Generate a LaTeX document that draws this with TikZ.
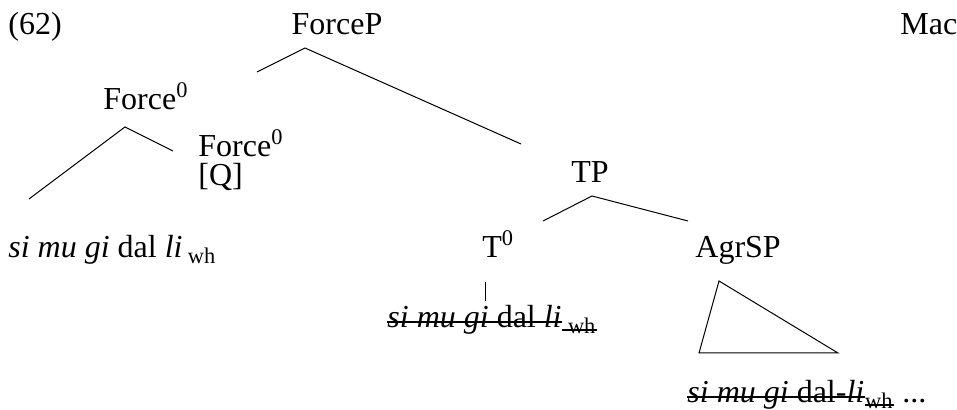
\documentclass[tikz,border=0pt]{standalone}
\usepackage{fontspec}
\setmainfont{Liberation Serif}
\usepackage{tikz}
\usetikzlibrary{positioning,calc}

\begin{document}
\begin{tikzpicture}[
    x=0.5pt, y=-0.5pt,
    lab/.style={inner sep=0pt, anchor=base west, font=\fontsize{16}{14.5}\selectfont, align=left},
    cat/.style={lab, anchor=base},
    edge/.style={line width=0.5pt},
    strike/.style={line width=0.9pt}
]
\useasboundingbox (0,0) rectangle (957,410);

% labels
\node[lab] (num) at (8,35) {(62)};
\node[cat] (forcep) at (337,35) {ForceP};
\node[lab] (mac) at (900,35) {Mac};
\node[lab] (force) at (103,110) {Force\textsuperscript{0}};
\node[lab] (forceq) at (198,186) {Force\textsuperscript{0}\\{[Q]}};
\node[lab] (wordl) at (8,258) {\textit{si mu gi} dal \textit{li}\,\textsubscript{wh}};
\node[cat] (tp) at (590,183) {TP};
\node[lab] (tzero) at (482,258) {T\textsuperscript{0}};
\node[lab] (agrsp) at (695,258) {AgrSP};
\node[lab] (wordt) at (387,328) {\textit{si mu gi} dal \textit{li}};
\node[lab] (wordtwh) at (wordt.base east) {\textsubscript{\ wh}};
\node[lab] (worda) at (687,403) {\textit{si mu gi} dal-\textit{li}};
\node[lab] (wordawh) at (worda.base east) {\textsubscript{wh}};
\node[lab] (dots) at (wordawh.base east) {\ ...};

% struck copies
\draw[strike] ($(wordt.base west)+(0,-6)$) -- ($(wordt.base east)+(0,-6)$);
\draw[strike] ($(wordtwh.base west)+(0,2)$) -- ($(wordtwh.base east)+(0,2)$);
\draw[strike] ($(worda.base west)+(0,-6)$) -- ($(worda.base east)+(0,-6)$);
\draw[strike] ($(wordawh.base west)+(0,2)$) -- ($(wordawh.base east)+(0,2)$);

% branch points
\coordinate (fpTop) at (305,48);
\coordinate (fpL) at (257,72);
\coordinate (fpR) at (521,144);
\coordinate (fTop) at (125,127);
\coordinate (fL) at (29,199);
\coordinate (fR) at (173,151);
\coordinate (tpTop) at (592,196);
\coordinate (tpL) at (543,221);
\coordinate (tpR) at (688,221);
\coordinate (tTop) at (485,282);
\coordinate (tBot) at (485,301);
\coordinate (triTop) at (719,281);
\coordinate (triL) at (699,353);
\coordinate (triR) at (838,353);

% edges
\draw[edge] (fpL) -- (fpTop) -- (fpR);
\draw[edge] (fL) -- (fTop) -- (fR);
\draw[edge] (tpL) -- (tpTop) -- (tpR);
\draw[edge] (tTop) -- (tBot);
\draw[edge] (triTop) -- (triL) -- (triR) -- cycle;

\end{tikzpicture}
\end{document}
